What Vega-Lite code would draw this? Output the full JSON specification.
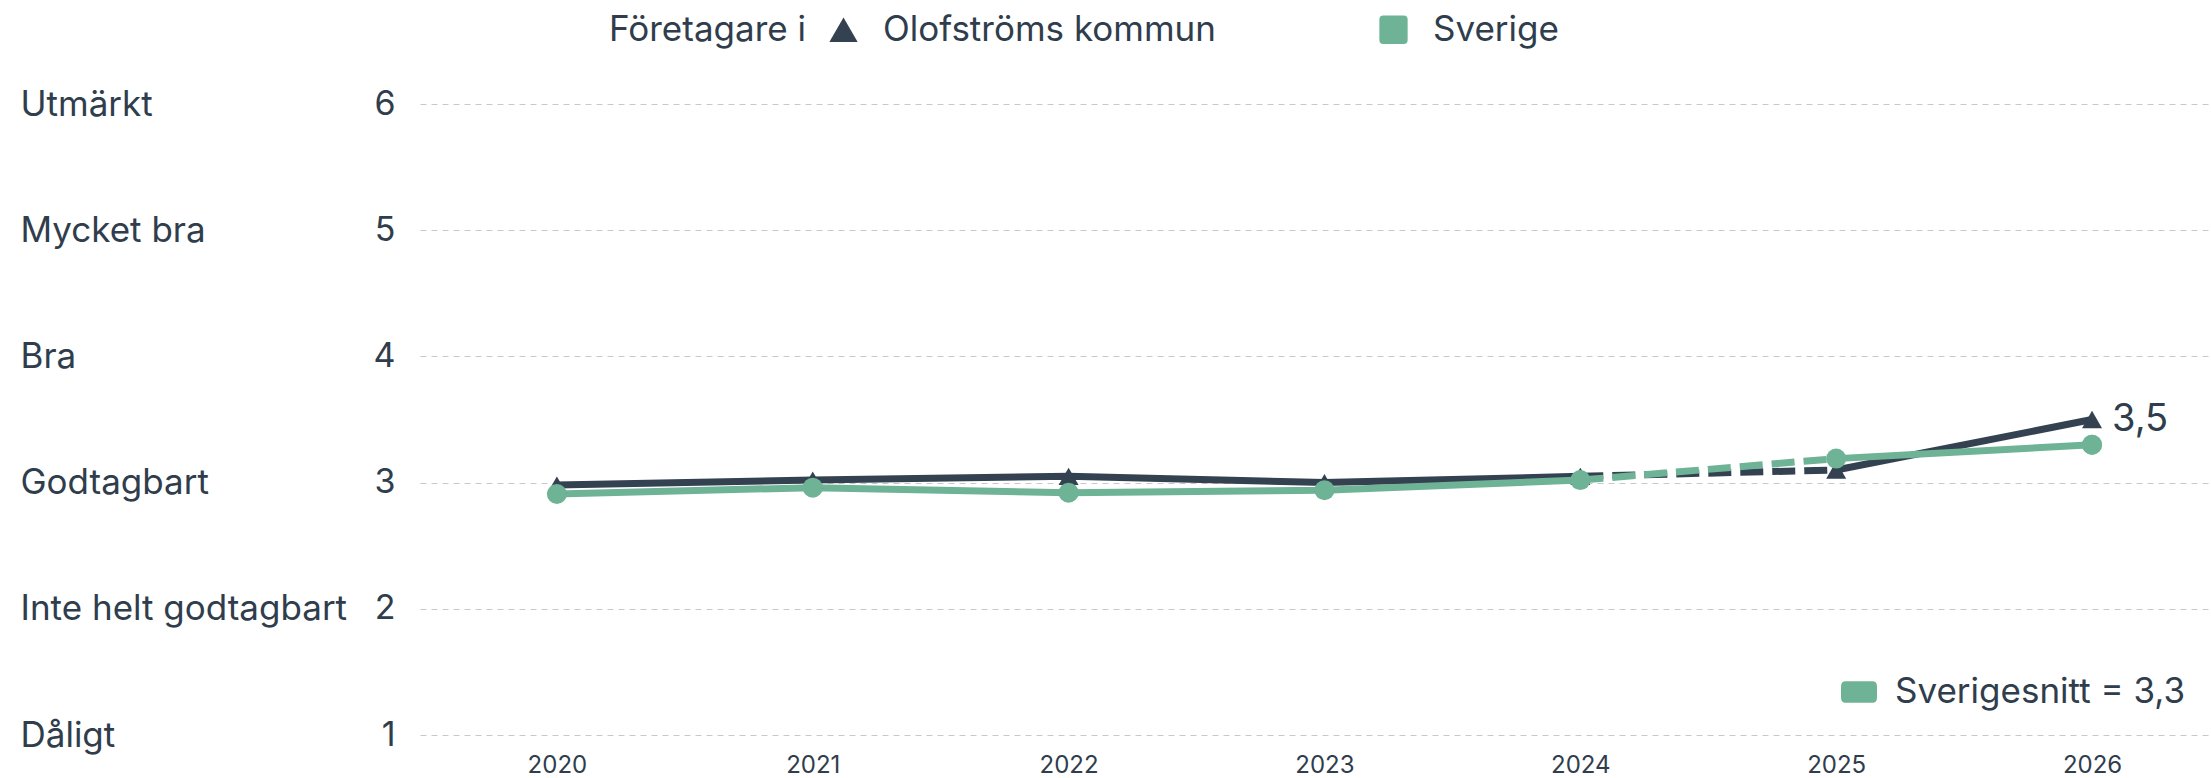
{
  "$schema": "https://vega.github.io/schema/vega-lite/v6.json",
  "width": 1791,
  "height": 631,
  "autosize": {"type": "none"},
  "padding": {"left": 420, "top": 104, "right": 0, "bottom": 43},
  "background": "white",
  "config": {
    "view": {"stroke": null},
    "font": "Inter",
    "axis": {"domain": false, "ticks": false, "labelColor": "#2f3d4c", "labelFont": "Inter"},
    "legend": {"labelFont": "Inter", "titleFont": "Inter", "labelColor": "#2f3d4c", "titleColor": "#2f3d4c", "labelLimit": 500, "titleLimit": 500}
  },
  "data": {
    "values": [
      {"series": "Olofströms kommun", "year": 2020, "value": 2.98},
      {"series": "Olofströms kommun", "year": 2021, "value": 3.02},
      {"series": "Olofströms kommun", "year": 2022, "value": 3.05},
      {"series": "Olofströms kommun", "year": 2023, "value": 3.0},
      {"series": "Olofströms kommun", "year": 2024, "value": 3.05},
      {"series": "Olofströms kommun", "year": 2025, "value": 3.1},
      {"series": "Olofströms kommun", "year": 2026, "value": 3.5, "label": "3,5"},
      {"series": "Sverige", "year": 2020, "value": 2.91},
      {"series": "Sverige", "year": 2021, "value": 2.96},
      {"series": "Sverige", "year": 2022, "value": 2.92},
      {"series": "Sverige", "year": 2023, "value": 2.94},
      {"series": "Sverige", "year": 2024, "value": 3.02},
      {"series": "Sverige", "year": 2025, "value": 3.19},
      {"series": "Sverige", "year": 2026, "value": 3.3}
    ]
  },
  "encoding": {
    "x": {
      "field": "year",
      "type": "ordinal",
      "scale": {"type": "point", "paddingOuter": 0.475, "align": 0.535},
      "axis": {"title": null, "labelAngle": 0, "labelFontSize": 24, "labelPadding": 18, "grid": false}
    }
  },
  "layer": [
    {
      "transform": [{"filter": "datum.year <= 2024"}],
      "mark": {"type": "line", "strokeWidth": 7, "strokeCap": "butt"},
      "encoding": {
        "y": {
          "field": "value", "type": "quantitative",
          "scale": {"domain": [1, 6], "nice": false, "zero": false},
          "axis": {"title": null, "values": [1, 2, 3, 4, 5, 6], "labelFontSize": 34, "labelPadding": 25, "grid": true, "gridColor": "#c8c8c8", "gridDash": [6, 5], "gridWidth": 1, "orient": "left"}
        },
        "color": {
          "field": "series", "type": "nominal",
          "scale": {"domain": ["Olofströms kommun", "Sverige"], "range": ["#334150", "#6fb396"]},
          "legend": {
            "orient": "none", "legendX": 189, "legendY": -92, "direction": "horizontal",
            "title": "Företagare i", "titleOrient": "left", "titleFontSize": 35, "titleFontWeight": "normal",
            "titlePadding": 20, "titleBaseline": "middle",
            "labelFontSize": 35, "symbolSize": 800, "labelOffset": 22, "columnPadding": 160,
            "encode": {
              "symbols": {
                "update": {
                  "shape": {"signal": "datum.value === 'Olofströms kommun' ? 'triangle-up' : 'M-1,-0.72 Q-1,-1 -0.72,-1 L0.72,-1 Q1,-1 1,-0.72 L1,0.72 Q1,1 0.72,1 L-0.72,1 Q-1,1 -1,0.72 Z'"},
                  "fill": {"scale": "color", "field": "value"},
                  "stroke": {"value": "transparent"},
                  "strokeWidth": {"value": 0},
                  "opacity": {"value": 1}
                }
              }
            }
          }
        }
      }
    },
    {
      "transform": [{"filter": "datum.year >= 2024 && datum.year <= 2025"}],
      "mark": {"type": "line", "strokeWidth": 7, "strokeDash": [23, 9], "strokeCap": "butt"},
      "encoding": {
        "y": {"field": "value", "type": "quantitative", "axis": null},
        "color": {"field": "series", "type": "nominal"}
      }
    },
    {
      "transform": [{"filter": "datum.year >= 2025"}],
      "mark": {"type": "line", "strokeWidth": 7, "strokeCap": "butt"},
      "encoding": {
        "y": {"field": "value", "type": "quantitative", "axis": null},
        "color": {"field": "series", "type": "nominal"}
      }
    },
    {
      "transform": [{"filter": "datum.series == 'Olofströms kommun'"}],
      "mark": {"type": "point", "shape": "triangle-up", "filled": true, "opacity": 1, "size": 400},
      "encoding": {
        "y": {
          "field": "value", "type": "quantitative",
          "axis": {
            "orient": "left", "title": null, "values": [1, 2, 3, 4, 5, 6], "grid": false,
            "labelAlign": "left", "labelPadding": 400, "labelFontSize": 35, "labelLimit": 500,
            "labelExpr": "datum.value == 1 ? 'Dåligt' : datum.value == 2 ? 'Inte helt godtagbart' : datum.value == 3 ? 'Godtagbart' : datum.value == 4 ? 'Bra' : datum.value == 5 ? 'Mycket bra' : 'Utmärkt'"
          }
        },
        "color": {"field": "series", "type": "nominal"}
      }
    },
    {
      "transform": [{"filter": "datum.series == 'Sverige'"}],
      "mark": {"type": "point", "shape": "circle", "filled": true, "opacity": 1, "size": 400},
      "encoding": {
        "y": {"field": "value", "type": "quantitative", "axis": null},
        "color": {"field": "series", "type": "nominal"}
      }
    },
    {
      "transform": [{"filter": "datum.series == 'Sverige' && datum.year == 2026"}],
      "mark": {"type": "circle", "opacity": 1, "size": 400},
      "encoding": {
        "y": {"field": "value", "type": "quantitative", "axis": null},
        "fill": {
          "datum": "Sverigesnitt = 3,3", "type": "nominal",
          "scale": {"range": ["#6fb396"]},
          "legend": {
            "orient": "bottom-right", "offset": 25, "title": null, "labelFontSize": 35,
            "symbolType": "M-1,-0.3 Q-1,-0.6 -0.75,-0.6 L0.75,-0.6 Q1,-0.6 1,-0.3 L1,0.3 Q1,0.6 0.75,0.6 L-0.75,0.6 Q-1,0.6 -1,0.3 Z",
            "symbolSize": 1296, "labelOffset": 18, "symbolStrokeWidth": 0, "symbolOpacity": 1
          }
        }
      }
    },
    {
      "transform": [{"filter": "datum.series == 'Olofströms kommun' && datum.year == 2026"}],
      "mark": {"type": "text", "align": "left", "baseline": "middle", "dx": 20, "fontSize": 38, "color": "#2f3d4c", "font": "Inter"},
      "encoding": {
        "y": {"field": "value", "type": "quantitative", "axis": null},
        "text": {"field": "label"}
      }
    }
  ],
  "resolve": {"axis": {"y": "independent"}}
}
